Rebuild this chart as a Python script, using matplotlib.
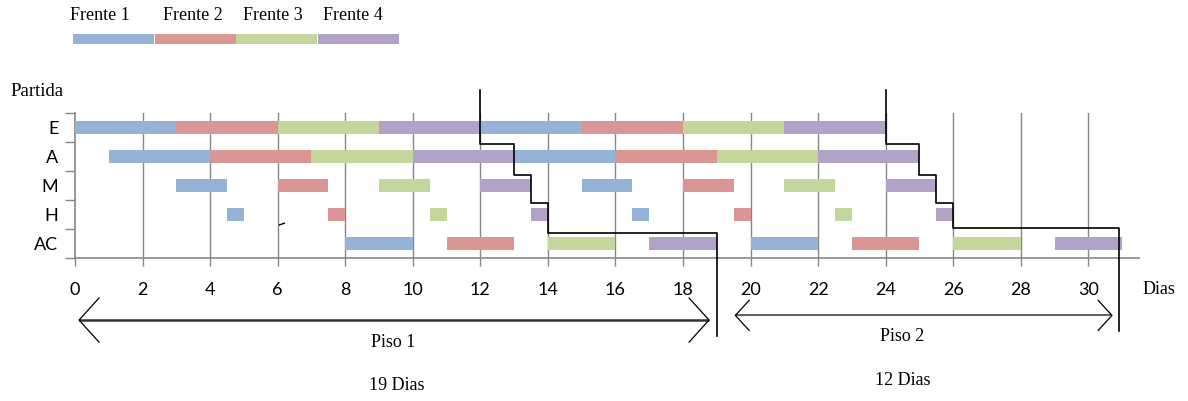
import matplotlib
matplotlib.use("Agg")
import matplotlib.pyplot as plt
from matplotlib.patches import Rectangle

# Activity rows (top to bottom) and the crews ("frentes") working them
partidas = ["E", "A", "M", "H", "AC"]
frentes = ["Frente 1", "Frente 2", "Frente 3", "Frente 4"]
colores = ["#95B3D7", "#D99694", "#C3D69B", "#B3A2C7"]

# Tasks per row: (start day, end day, crew index)
tareas_E = [(0, 3, 0), (3, 6, 1), (6, 9, 2), (9, 12, 3),
            (12, 15, 0), (15, 18, 1), (18, 21, 2), (21, 24, 3)]
tareas_A = [(1, 4, 0), (4, 7, 1), (7, 10, 2), (10, 13, 3),
            (13, 16, 0), (16, 19, 1), (19, 22, 2), (22, 25, 3)]
tareas_M = [(3, 4.5, 0), (6, 7.5, 1), (9, 10.5, 2), (12, 13.5, 3),
            (15, 16.5, 0), (18, 19.5, 1), (21, 22.5, 2), (24, 25.5, 3)]
tareas_H = [(4.5, 5, 0), (7.5, 8, 1), (10.5, 11, 2), (13.5, 14, 3),
            (16.5, 17, 0), (19.5, 20, 1), (22.5, 23, 2), (25.5, 26, 3)]
tareas_AC = [(8, 10, 0), (11, 13, 1), (14, 16, 2), (17, 19, 3),
             (20, 22, 0), (23, 25, 1), (26, 28, 2), (29, 31, 3)]
tareas = [tareas_E, tareas_A, tareas_M, tareas_H, tareas_AC]

# Floor boundaries (staircase lines) and floor durations
escalera_1_x = [12, 12, 13, 13, 13.5, 13.5, 14, 14, 19, 19]
escalera_1_y = [-1.29, 0.57, 0.57, 1.65, 1.65, 2.62, 2.62, 3.65, 3.65, 7.2]
escalera_2_x = [24, 24, 25, 25, 25.5, 25.5, 26, 26, 30.9, 30.9]
escalera_2_y = [-1.29, 0.57, 0.57, 1.65, 1.65, 2.62, 2.62, 3.45, 3.45, 7.0]
pisos = ["Piso 1", "Piso 2"]
dias_piso = [19, 12]

xticks = list(range(0, 32, 2))

W, H = 1188, 401
fig = plt.figure(figsize=(W / 100, H / 100), dpi=100)
ax = fig.add_axes([75 / W, 143 / H, 1064 / W, 145 / H])

grid_c = "#868686"
bar_h = 0.42
for i, fila in enumerate(tareas):
    for ini, fin, f in fila:
        ax.barh(i, fin - ini, left=ini, height=bar_h, color=colores[f],
                edgecolor="none", zorder=3)

ax.set_xlim(0, 31.5)
ax.set_ylim(4.5, -0.5)

# Vertical gridlines every two days
for x in xticks[1:]:
    ax.axvline(x, color=grid_c, lw=1.0, zorder=1)

ax.set_xticks(xticks)
ax.set_xticklabels([str(x) for x in xticks], fontfamily="Lato", fontsize=13)
ax.set_yticks(range(len(partidas)))
ax.set_yticklabels(partidas, fontfamily="Lato", fontsize=13)
ax.set_yticks([k - 0.5 for k in range(len(partidas) + 1)], minor=True)
ax.tick_params(axis="y", which="major", length=0, pad=12)
ax.tick_params(axis="y", which="minor", length=7, color=grid_c, width=1)
ax.tick_params(axis="x", which="major", length=6, color=grid_c, width=1, pad=11)

for s in ["top", "right"]:
    ax.spines[s].set_visible(False)
for s in ["left", "bottom"]:
    ax.spines[s].set_color(grid_c)
    ax.spines[s].set_linewidth(1.2)

# Staircase lines separating the floors
ax.plot(escalera_1_x, escalera_1_y, color="black", lw=1.2, clip_on=False, zorder=5)
ax.plot(escalera_2_x, escalera_2_y, color="black", lw=1.2, clip_on=False, zorder=5)
ax.plot([6.05, 6.2], [3.36, 3.3], color="black", lw=1.0, zorder=5)

serif = "Liberation Serif"
ax.text(31.6, 5.57, "Dias", fontfamily=serif, fontsize=13, ha="left",
        va="center", clip_on=False)


def flecha_doble(x0, x1, y, dx, dy, lw=1.0):
    kw = dict(color="#333333", lw=lw, clip_on=False, solid_capstyle="butt")
    ax.plot([x0, x1], [y, y], **kw)
    ax.plot([x0 + dx, x0, x0 + dx], [y - dy, y, y + dy], lw=0.9,
            color="black", clip_on=False)
    ax.plot([x1 - dx, x1, x1 - dx], [y - dy, y, y + dy], lw=0.9,
            color="black", clip_on=False)


flecha_doble(0.12, 18.77, 6.64, 0.59, 0.76, lw=1.8)
flecha_doble(19.55, 30.7, 6.48, 0.41, 0.52, lw=1.1)

ax.text(9.41, 7.43, pisos[0], fontfamily=serif, fontsize=13, ha="center",
        va="center", clip_on=False)
ax.text(9.53, 8.91, f"{dias_piso[0]} Dias", fontfamily=serif, fontsize=13,
        ha="center", va="center", clip_on=False)
ax.text(24.5, 7.22, pisos[1], fontfamily=serif, fontsize=13, ha="center",
        va="center", clip_on=False)
ax.text(24.5, 8.74, f"{dias_piso[1]} Dias", fontfamily=serif, fontsize=13,
        ha="center", va="center", clip_on=False)

# Legend: colour strip with crew names above
leg_x = [73, 155, 236, 318]
leg_txt_x = [70, 163, 243, 323]
leg_w = 81
for k, (nombre, c) in enumerate(zip(frentes, colores)):
    fig.add_artist(Rectangle((leg_x[k] / W, (H - 44) / H), leg_w / W, 10 / H,
                             transform=fig.transFigure, color=c, lw=0))
    fig.text(leg_txt_x[k] / W, (H - 15) / H, nombre, fontfamily=serif,
             fontsize=13, ha="left", va="center")

fig.text(10 / W, (H - 92) / H, "Partida", fontfamily=serif, fontsize=13.5,
         ha="left", va="center")

fig.savefig("out.png", dpi=100)
